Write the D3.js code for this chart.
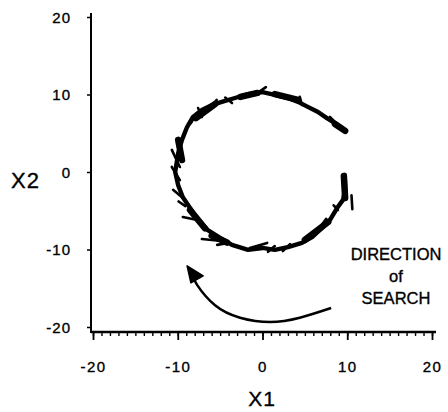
<!DOCTYPE html>
<html>
<head>
<meta charset="utf-8">
<script src="https://cdn.jsdelivr.net/npm/d3@7"></script>
<style>
  body { margin: 0; background: #fff; }
  svg text { font-family: "Liberation Sans", Arial, Helvetica, sans-serif; fill: #000; stroke: #000; stroke-width: 0.35px; }
</style>
</head>
<body>
<svg width="448" height="412"></svg>
<script>
// axis ticks
var xTicks = [-20, -10, 0, 10, 20];
var yTicks = [-20, -10, 0, 10, 20];

// search trajectory (clockwise from the right side)
var pathX = [9.7, 9.75, 9.5, 8.8, 7.95, 7.0, 5.85, 4.65, 3.0, 1.45, 0.0, -1.7, -3.6, -5.0, -6.45, -7.6,
             -8.55, -9.4, -9.95, -10.3, -9.95, -9.5, -8.9, -8.2, -7.15, -5.95, -4.8, -3.25, -1.7, 0.0,
             1.45, 3.0, 4.2, 5.35, 6.55, 7.6, 8.55, 9.75];
var pathY = [-0.4, -2.3, -3.6, -4.65, -6.2, -7.25, -8.4, -9.15, -9.7, -10.05, -9.8, -10.05, -9.4, -8.5, -7.5, -6.2,
             -4.65, -3.25, -1.7, 0.0, 2.45, 4.15, 5.8, 7.1, 8.0, 8.65, 9.05, 9.55, 10.05, 10.3,
             9.95, 9.55, 9.05, 8.4, 7.75, 6.95, 6.3, 5.4];

// short stray vectors sticking out of the trajectory [x1, y1, x2, y2]
var whiskers = [
  [10.5, -3.0, 10.6, -4.8],
  [8.4, -4.3, 8.9, -4.9],
  [-1.5, -9.8, 0.55, -9.15],
  [-7.15, -8.65, -4.8, -8.9],
  [-5.35, -9.4, -4.05, -9.15],
  [-9.4, -5.8, -7.7, -6.2],
  [-10.7, 2.85, -9.75, 0.65],
  [-10.7, 0.65, -9.75, -1.05],
  [-10.55, -2.3, -9.5, -3.25],
  [-7.6, 8.25, -7.15, 7.1],
  [-0.9, 9.95, 0.4, 10.95],
  [4.4, 9.7, 4.65, 8.65],
  [7.95, 7.1, 8.55, 6.45],
  [-8.45, 6.3, -7.75, 7.6],
  [0.65, -10.3, 1.45, -9.55],
  [2.4, -10.2, 3.25, -9.3],
  [6.55, -7.5, 7.5, -6.05],
  [5.25, -8.75, 5.95, -7.75],
  [-6.2, 8.3, -5.4, 9.3],
  [-4.4, 9.6, -3.6, 8.9],
  [-9.9, -3.8, -9.1, -4.4]
];

// heavier clumps along the trajectory [x1, y1, x2, y2]
var clumps = [
  [1.45, 10.05, 4.2, 9.3],
  [5.0, -8.75, 7.75, -6.45],
  [-8.55, -4.9, -6.8, -7.25],
  [-7.85, 6.95, -5.6, 8.75],
  [-9.95, 4.15, -9.5, 1.55],
  [8.55, 6.2, 9.75, 5.3],
  [9.6, -0.5, 9.75, -3.35],
  [-6.0, -8.2, -4.2, -9.1],
  [-2.6, 9.7, -0.6, 10.2]
];

// direction-of-search arrow
var arrowX = [8.1, 4.4, 0.9, -2.65, -5.6, -7.7, -8.0];
var arrowY = [-17.55, -18.8, -19.35, -18.8, -17.2, -14.6, -13.7];
var headX = [-8.9, -8.45, -7.0];
var headY = [-12.1, -14.3, -13.4];

var noteLines = ["DIRECTION", "of", "SEARCH"];

var svg = d3.select("svg");

var x = d3.scaleLinear().domain([-20, 20]).range([93, 432]);
var y = d3.scaleLinear().domain([-20, 20]).range([327, 17]);
var fmt = function(d) { return String(d); };

// x axis: minor ticks, major ticks, baseline
var gx = svg.append("g").attr("transform", "translate(0,332)");
gx.append("g")
    .call(d3.axisBottom(x).ticks(40).tickSize(4).tickFormat(""))
    .call(function(g) { g.select(".domain").remove(); })
    .selectAll("line").attr("stroke", "#000").attr("stroke-width", 1.4);
var majorX = gx.append("g")
    .call(d3.axisBottom(x).tickValues(xTicks).tickSize(8).tickFormat(fmt));
majorX.select(".domain").remove();
majorX.selectAll("line").attr("stroke", "#000").attr("stroke-width", 1.8);
majorX.selectAll("text")
    .attr("y", 40).attr("dy", 0)
    .style("font-size", "15px").style("letter-spacing", "1.5px");
gx.append("line")
    .attr("x1", 91).attr("x2", 436)
    .attr("stroke", "#000").attr("stroke-width", 2.5);

// y axis
var gy = svg.append("g").attr("transform", "translate(91,0)");
gy.call(d3.axisLeft(y).tickValues(yTicks).tickSize(4).tickFormat(fmt));
gy.select(".domain").remove();
gy.selectAll("line").attr("stroke", "#000").attr("stroke-width", 1.5);
gy.selectAll("text")
    .attr("x", -20).attr("dy", "0.36em")
    .style("font-size", "15px").style("letter-spacing", "1px");
svg.append("line")
    .attr("x1", 91).attr("x2", 91).attr("y1", 13).attr("y2", 333)
    .attr("stroke", "#000").attr("stroke-width", 2);

// axis titles
svg.append("text").attr("x", 262).attr("y", 406)
    .attr("text-anchor", "middle")
    .style("font-size", "21px").style("letter-spacing", "1px")
    .text("X1");
svg.append("text").attr("x", 11).attr("y", 188)
    .style("font-size", "22px").style("letter-spacing", "1px")
    .text("X2");

// trajectory
var pts = pathX.map(function(d, i) { return [d, pathY[i]]; });
svg.append("path")
    .datum(pts)
    .attr("fill", "none")
    .attr("stroke", "#000")
    .attr("stroke-width", 4.4)
    .attr("stroke-linejoin", "round")
    .attr("stroke-linecap", "round")
    .attr("d", d3.line()
        .x(function(d) { return x(d[0]); })
        .y(function(d) { return y(d[1]); }));

svg.selectAll(".clump")
    .data(clumps)
  .enter().append("line")
    .attr("class", "clump")
    .attr("x1", function(d) { return x(d[0]); })
    .attr("y1", function(d) { return y(d[1]); })
    .attr("x2", function(d) { return x(d[2]); })
    .attr("y2", function(d) { return y(d[3]); })
    .attr("stroke", "#000")
    .attr("stroke-width", 6.5)
    .attr("stroke-linecap", "round");

svg.selectAll(".whisker")
    .data(whiskers)
  .enter().append("line")
    .attr("class", "whisker")
    .attr("x1", function(d) { return x(d[0]); })
    .attr("y1", function(d) { return y(d[1]); })
    .attr("x2", function(d) { return x(d[2]); })
    .attr("y2", function(d) { return y(d[3]); })
    .attr("stroke", "#000")
    .attr("stroke-width", 2.6)
    .attr("stroke-linecap", "round");

// arrow
var arrowPts = arrowX.map(function(d, i) { return [d, arrowY[i]]; });
svg.append("path")
    .datum(arrowPts)
    .attr("fill", "none")
    .attr("stroke", "#000")
    .attr("stroke-width", 2.5)
    .attr("d", d3.line()
        .curve(d3.curveNatural)
        .x(function(d) { return x(d[0]); })
        .y(function(d) { return y(d[1]); }));
svg.append("path")
    .datum(headX.map(function(d, i) { return [d, headY[i]]; }))
    .attr("fill", "#000")
    .attr("stroke", "#000")
    .attr("stroke-width", 1.5)
    .attr("stroke-linejoin", "round")
    .attr("d", function(d) { return d3.line()
        .x(function(p) { return x(p[0]); })
        .y(function(p) { return y(p[1]); })(d) + "Z"; });

// note
svg.append("text")
    .attr("x", 396).attr("y", 260)
    .attr("text-anchor", "middle")
    .style("font-size", "16.5px")
  .selectAll("tspan")
    .data(noteLines)
  .enter().append("tspan")
    .attr("x", 396)
    .attr("dy", function(d, i) { return i ? 22 : 0; })
    .text(function(d) { return d; });
</script>
</body>
</html>
